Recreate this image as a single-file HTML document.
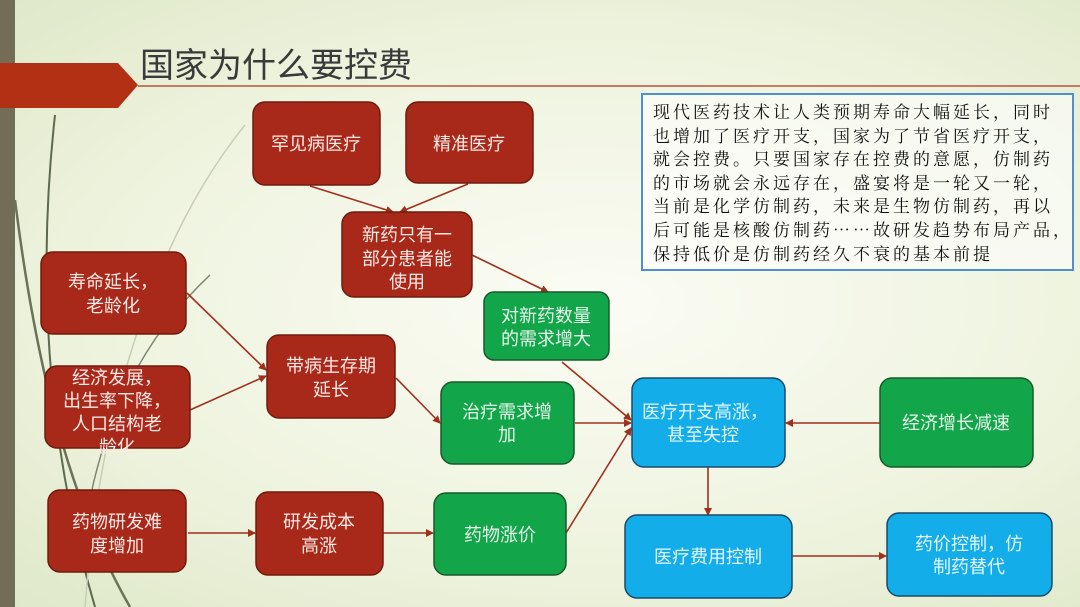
<!DOCTYPE html>
<html><head><meta charset="utf-8"><style>
html,body{margin:0;padding:0}
body{width:1080px;height:607px;overflow:hidden;background:radial-gradient(ellipse at 55% 50%,#fbfcf4 0%,#eef3de 60%,#dfe8c8 100%);font-family:"Liberation Sans","Noto Sans CJK SC",sans-serif;position:relative}
svg{position:absolute;left:0;top:0}
.tb{position:absolute;left:641px;top:93px;width:419px;height:170px;border:2px solid #4f8fcf;background:rgba(255,255,255,0.55);padding:4px 0 0 10px;box-sizing:content-box;font-family:"Noto Serif CJK SC",serif;font-size:17px;line-height:23.6px;letter-spacing:3px;color:#111;white-space:nowrap}
</style></head><body>
<svg width="1080" height="607" viewBox="0 0 1080 607" font-family="Liberation Sans, Noto Sans CJK SC, sans-serif">
<defs><marker id="a" markerWidth="8" markerHeight="8" refX="7" refY="4" orient="auto" markerUnits="userSpaceOnUse"><path d="M0,0 L8,4 L0,8 z" fill="#a0301e"/></marker></defs>
<rect x="0" y="0" width="15" height="607" fill="#736d57"/>
<path d="M55,115 C40,250 40,420 95,607" stroke="#5c6a4e" stroke-width="2" fill="none"/>
<path d="M15,200 C40,400 80,520 130,607" stroke="#6b7258" stroke-width="2.5" fill="none"/>
<path d="M245,125 C160,230 100,400 85,607" stroke="#c9cdb8" stroke-width="1.5" fill="none"/>
<path d="M210,275 C130,350 90,450 80,570" stroke="#7c8670" stroke-width="1.5" fill="none"/>
<path d="M0,63 L118,63 L138,85 L118,108 L0,108 z" fill="#b23115"/>
<line x1="138" y1="86" x2="1080" y2="86" stroke="#b5553c" stroke-width="1.5"/>
<text x="140" y="77" font-size="34" fill="#3a3a3a">国家为什么要控费</text>
<g stroke="#a0301e" stroke-width="1.6" fill="none" marker-end="url(#a)">
<line x1="310" y1="186" x2="393" y2="212"/>
<line x1="468" y1="184" x2="400" y2="212"/>
<line x1="472" y1="255" x2="548" y2="292"/>
<line x1="187" y1="293" x2="266" y2="370"/>
<line x1="190" y1="410" x2="266" y2="376"/>
<line x1="396" y1="378" x2="440" y2="423"/>
<line x1="188" y1="533" x2="255" y2="533"/>
<line x1="383" y1="533" x2="433" y2="533"/>
<line x1="562" y1="362" x2="631" y2="420"/>
<line x1="575" y1="423" x2="631" y2="423"/>
<line x1="566" y1="533" x2="631" y2="428"/>
<line x1="880" y1="423" x2="786" y2="423"/>
<line x1="708" y1="467" x2="708" y2="515"/>
<line x1="792" y1="556" x2="886" y2="556"/>
</g>
<g stroke="#6e1c0e" stroke-width="1.5" fill="#a8291a">
<rect x="253" y="102" width="127" height="83" rx="12"/>
<rect x="406" y="102" width="127" height="81" rx="12"/>
<rect x="342" y="212" width="130" height="85" rx="12"/>
<rect x="41" y="252" width="145" height="82" rx="12"/>
<rect x="45" y="366" width="145" height="82" rx="12"/>
<rect x="267" y="335" width="128" height="83" rx="12"/>
<rect x="48" y="490" width="138" height="82" rx="12"/>
<rect x="256" y="492" width="127" height="83" rx="12"/>
</g>
<g stroke="#1a5a2a" stroke-width="1.5" fill="#12a54a">
<rect x="484" y="292" width="125" height="68" rx="10"/>
<rect x="441" y="382" width="133" height="82" rx="12"/>
<rect x="434" y="493" width="132" height="82" rx="12"/>
<rect x="880" y="378" width="153" height="89" rx="12"/>
</g>
<g stroke="#1a4a6a" stroke-width="1.5" fill="#13aee9">
<rect x="632" y="378" width="153" height="89" rx="12"/>
<rect x="625" y="515" width="167" height="83" rx="12"/>
<rect x="887" y="513" width="165" height="83" rx="12"/>
</g>
<g fill="#fbe9e4" font-size="18" text-anchor="middle">
<text x="316" y="150">罕见病医疗</text>
<text x="469" y="150">精准医疗</text>
<text x="407" y="241">新药只有一</text><text x="407" y="265">部分患者能</text><text x="407" y="288">使用</text>
<text x="113" y="288">寿命延长，</text><text x="113" y="312">老龄化</text>
<text x="117" y="384">经济发展，</text><text x="117" y="407">出生率下降，</text><text x="117" y="430">人口结构老</text><text x="117" y="453">龄化</text>
<text x="331" y="372">带病生存期</text><text x="331" y="396">延长</text>
<text x="117" y="528">药物研发难</text><text x="117" y="552">度增加</text>
<text x="319" y="528">研发成本</text><text x="319" y="552">高涨</text>
</g>
<g fill="#e6f7ea" font-size="18" text-anchor="middle">
<text x="546" y="322">对新药数量</text><text x="546" y="345">的需求增大</text>
<text x="507" y="418">治疗需求增</text><text x="507" y="441">加</text>
<text x="500" y="541">药物涨价</text>
<text x="956" y="429">经济增长减速</text>
</g>
<g fill="#e4f6fd" font-size="18" text-anchor="middle">
<text x="705" y="418">医疗开支高涨，</text><text x="703" y="441">甚至失控</text>
<text x="708" y="563">医疗费用控制</text>
<text x="969" y="550">药价控制，仿</text><text x="969" y="573">制药替代</text>
</g>
</svg>
<div class="tb">现代医药技术让人类预期寿命大幅延长，同时<br>也增加了医疗开支，国家为了节省医疗开支，<br>就会控费。只要国家存在控费的意愿，仿制药<br>的市场就会永远存在，盛宴将是一轮又一轮，<br>当前是化学仿制药，未来是生物仿制药，再以<br>后可能是核酸仿制药……故研发趋势布局产品，<br>保持低价是仿制药经久不衰的基本前提</div>
</body></html>
